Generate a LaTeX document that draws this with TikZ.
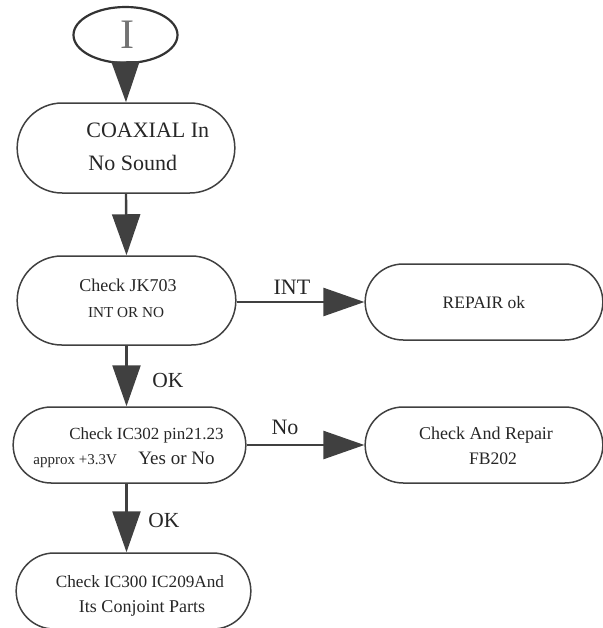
\documentclass[tikz,border=0pt]{standalone}
\usepackage{fontspec}
\setmainfont{Liberation Serif}
\usepackage{tikz}
\usetikzlibrary{shapes.misc,shapes.geometric,arrows.meta}

\begin{document}
\begin{tikzpicture}
[x=0.5pt,y=-0.5pt,
box/.style={draw=black!75,line width=0.75pt,rounded rectangle},
txt/.style={inner sep=0pt,anchor=base,text=black!85},
flow/.style={draw=black!75,line width=1.2pt,-{Triangle[length=20.5pt,width=14pt]}}]
\useasboundingbox (0,0) rectangle (602,628);

% start
\node[draw=black!80,line width=1.1pt,ellipse,minimum width=52pt,minimum height=28pt] (st) at (125.5,35) {};
\node[txt,text=black!55,font=\fontsize{21pt}{24pt}\selectfont] (sti) at (127,48) {I};

% boxes
\node[box,minimum width=115.5pt,minimum height=45pt] (b1) at (126,148) {};
\node[box,minimum width=116pt,minimum height=44.5pt] (b2) at (126.5,300.5) {};
\node[box,minimum width=125.5pt,minimum height=38pt] (b3) at (484,302) {};
\node[box,minimum width=123pt,minimum height=38pt] (b4) at (129.5,445) {};
\node[box,minimum width=125.5pt,minimum height=38pt] (b5) at (484,445) {};
\node[box,minimum width=124pt,minimum height=38pt] (b6) at (133.5,591) {};

% texts
\node[txt,anchor=base west,font=\fontsize{11pt}{13pt}\selectfont] (b1a) at (86,137) {COAXIAL In};
\node[txt,anchor=base west,font=\fontsize{11pt}{13pt}\selectfont] (b1b) at (88,170) {No Sound};
\node[txt,font=\fontsize{9pt}{11pt}\selectfont] (b2a) at (128,291) {Check JK703};
\node[txt,font=\fontsize{7.6pt}{9pt}\selectfont] (b2b) at (126,317) {INT OR NO};
\node[txt,font=\fontsize{8.75pt}{10pt}\selectfont] (b3a) at (484,308) {REPAIR ok};
\node[txt,font=\fontsize{8.5pt}{10pt}\selectfont] (b4a) at (146.5,439) {Check IC302 pin21.23};
\node[txt,anchor=base west,font=\fontsize{7.5pt}{9pt}\selectfont] (b4b) at (33,464) {approx +3.3V};
\node[txt,anchor=base west,font=\fontsize{9.5pt}{11pt}\selectfont] (b4c) at (138,464) {Yes or No};
\node[txt,font=\fontsize{9pt}{11pt}\selectfont] (b5a) at (486,439) {Check And Repair};
\node[txt,font=\fontsize{8.8pt}{10pt}\selectfont] (b5b) at (493,464) {FB202};
\node[txt,font=\fontsize{8.6pt}{10pt}\selectfont] (b6a) at (140,587) {Check IC300 IC209And};
\node[txt,font=\fontsize{9pt}{11pt}\selectfont] (b6b) at (142,612) {Its Conjoint Parts};

% arrows
\draw[flow] (st.south) -- (b1.north);
\draw[flow] (b1.south) -- (b2.north);
\draw[flow] (b2.east |- b3.west) -- (b3.west);
\draw[flow] (b2.south) -- (b2.south |- b4.north);
\draw[flow] (b4.east) -- (b5.west);
\draw[flow] (b2.south |- b4.south) -- (b2.south |- b6.north);

% arrow labels
\node[txt,font=\fontsize{11pt}{13pt}\selectfont] (lint) at (292,294) {INT};
\node[txt,font=\fontsize{11pt}{13pt}\selectfont] (lno) at (285,434) {No};
\node[txt,anchor=base west,font=\fontsize{10.75pt}{13pt}\selectfont] (lok1) at (152,387) {OK};
\node[txt,anchor=base west,font=\fontsize{10.75pt}{13pt}\selectfont] (lok2) at (148,527) {OK};
\end{tikzpicture}
\end{document}
